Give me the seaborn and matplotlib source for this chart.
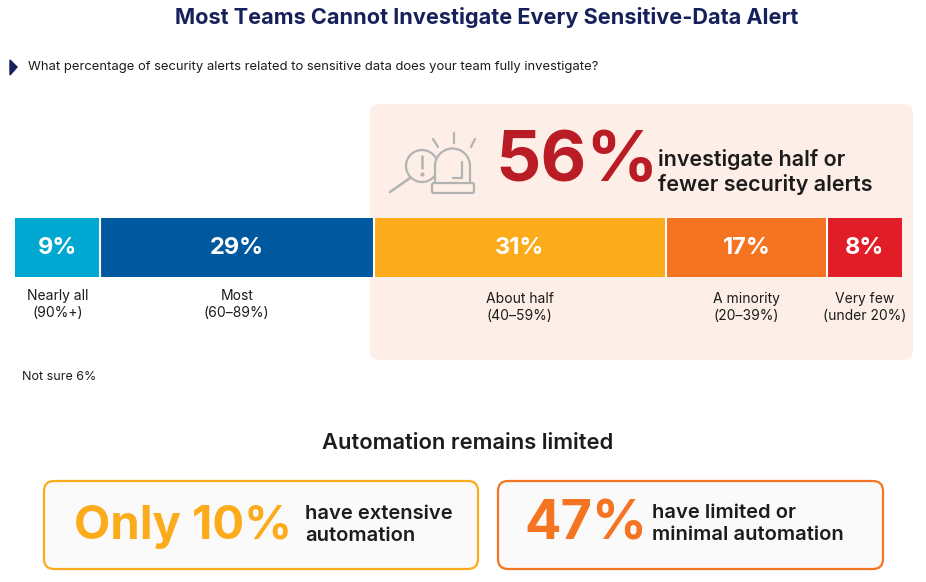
import pandas as pd
import seaborn as sns
import matplotlib.pyplot as plt
import matplotlib.transforms as mtransforms
from matplotlib.patches import FancyBboxPatch, Circle, Arc, Polygon

# =======================
## DATA
# =======================
categories = ["Nearly all", "Most", "About half", "A minority", "Very few"]
ranges = ["(90%+)", "(60–89%)", "(40–59%)", "(20–39%)", "(under 20%)"]
shares = [9, 29, 31, 17, 8]
seg_colors = ["#00a8d1", "#00599e", "#fcab1b", "#f47422", "#e11d27"]
not_sure = 6
half_or_fewer = 56
extensive_auto = 10
limited_auto = 47

title = "Most Teams Cannot Investigate Every Sensitive-Data Alert"
question = "What percentage of security alerts related to sensitive data does your team fully investigate?"

df = pd.DataFrame({"category": categories, "range": ranges, "share": shares, "color": seg_colors})
df["right"] = df["share"].cumsum()
df["left"] = df["right"] - df["share"]
df["mid"] = (df["left"] + df["right"]) / 2

# =======================
## FIGURE
# =======================
sns.set_theme(style="white")
plt.rcParams['font.family'] = ['Inter', 'DejaVu Sans']

W, H = 926, 582
DARK = "#1c1c1c"
NAVY = "#16205a"
PEACH = "#fdeee7"

fig = plt.figure(figsize=(W / 100, H / 100), dpi=100)

# background axes in pixel units (for boxes and text)
bg = fig.add_axes([0, 0, 1, 1])
bg.set_xlim(0, W)
bg.set_ylim(H, 0)
bg.axis('off')


def px_rect(x0, y0, x1, y1):
    return [x0 / W, 1 - y1 / H, (x1 - x0) / W, (y1 - y0) / H]


# title and question
bg.text(487, 18, title, ha='center', va='center', fontsize=15.6, fontweight='bold', color=NAVY)
bg.add_patch(Polygon([[10, 60], [17, 67], [10, 75]], closed=True, color=NAVY))
bg.text(28, 67, question, ha='left', va='center', fontsize=9.4, color=DARK)

# highlight panel
bg.add_patch(FancyBboxPatch((370, 104), 543, 256, boxstyle="round,pad=0,rounding_size=10",
                            fc=PEACH, ec="none", zorder=0))

# alert icon (magnifier + siren)
GREY = "#b3b3b3"
bg.add_patch(Circle((422, 166), 16, fill=False, ec=GREY, lw=1.6))
bg.plot([390, 410], [192, 178], color=GREY, lw=1.8, solid_capstyle='round')
bg.plot([422, 422], [156, 168], color=GREY, lw=1.8, solid_capstyle='round')
bg.plot([422], [174], marker='o', ms=2, color=GREY)
bg.add_patch(Polygon([[435, 183], [435, 166], [470, 166], [470, 183]], closed=True, fc=PEACH, ec="none", zorder=3))
bg.add_patch(Circle((452.5, 166), 17.5, fc=PEACH, ec="none", zorder=3))
bg.add_patch(Arc((452.5, 166), 35, 35, theta1=180, theta2=360, ec=GREY, lw=1.6, zorder=4))
bg.plot([435, 435], [166, 183], color=GREY, lw=1.6, zorder=4)
bg.plot([470, 470], [166, 183], color=GREY, lw=1.6, zorder=4)
bg.plot([453, 462, 462], [178, 178, 162], color=GREY, lw=1.6, zorder=4)
bg.add_patch(FancyBboxPatch((432, 183), 42, 10, boxstyle="round,pad=0,rounding_size=2",
                            fc=PEACH, ec=GREY, lw=1.6, zorder=4))
bg.plot([433, 438], [139, 147], color=GREY, lw=1.6, solid_capstyle='round')
bg.plot([454, 454], [133, 143], color=GREY, lw=1.6, solid_capstyle='round')
bg.plot([475, 471], [139, 147], color=GREY, lw=1.6, solid_capstyle='round')

bg.text(495, 162, f"{half_or_fewer}%", ha='left', va='center', fontsize=51, fontweight='bold', color="#b91c24")
bg.text(658, 172, "investigate half or\nfewer security alerts", ha='left', va='center',
        fontsize=15.5, fontweight='semibold', color=DARK, linespacing=1.2)

# =======================
## STACKED BAR
# =======================
ax = fig.add_axes(px_rect(15, 218, 902, 277))
for _, row in df[::-1].iterrows():
    sns.barplot(x=[row["right"]], y=["q"], color=row["color"], width=1, saturation=1,
                linewidth=0, orient="h", ax=ax)
for r in df["right"].iloc[:-1]:
    ax.axvline(r, color="white", lw=1.5)
ax.set_xlim(0, df["right"].iloc[-1])
ax.set_ylim(0.5, -0.5)
ax.axis('off')

for _, row in df.iterrows():
    ax.text(row["mid"], 0, f"{row['share']}%", ha='center', va='center', fontsize=17,
            fontweight='bold', color='white')

# category labels under the bar: x in data units, y in pixels
lbl = mtransforms.blended_transform_factory(ax.transData, bg.transData)
for i, row in df.iterrows():
    y0 = 296 if row["left"] < 38 else 299
    ax.text(row["mid"], y0, row["category"], transform=lbl, ha='center', va='center',
            fontsize=10, color=DARK)
    ax.text(row["mid"], y0 + 17, row["range"], transform=lbl, ha='center', va='center',
            fontsize=10, color=DARK)

bg.text(22, 377, f"Not sure {not_sure}%", ha='left', va='center', fontsize=9, color=DARK)

# =======================
## AUTOMATION
# =======================
bg.text(468, 443, "Automation remains limited", ha='center', va='center', fontsize=15.8,
        fontweight='semibold', color=DARK)

bg.add_patch(FancyBboxPatch((44, 481), 434, 88, boxstyle="round,pad=0,rounding_size=10",
                            fc="#fafafa", ec="#fcab1b", lw=1.6))
bg.add_patch(FancyBboxPatch((498, 481), 385, 88, boxstyle="round,pad=0,rounding_size=10",
                            fc="#fafafa", ec="#f47422", lw=1.6))

bg.text(74, 527, f"Only {extensive_auto}%", ha='left', va='center', fontsize=34,
        fontweight='bold', color="#fcab1b")
bg.text(305, 525, "have extensive\nautomation", ha='left', va='center', fontsize=14.5,
        fontweight='semibold', color=DARK, linespacing=1.25)
bg.text(524, 525, f"{limited_auto}%", ha='left', va='center', fontsize=39,
        fontweight='bold', color="#f47422")
bg.text(652, 524, "have limited or\nminimal automation", ha='left', va='center', fontsize=14.5,
        fontweight='semibold', color=DARK, linespacing=1.25)

fig.savefig("out.png", dpi=100)
